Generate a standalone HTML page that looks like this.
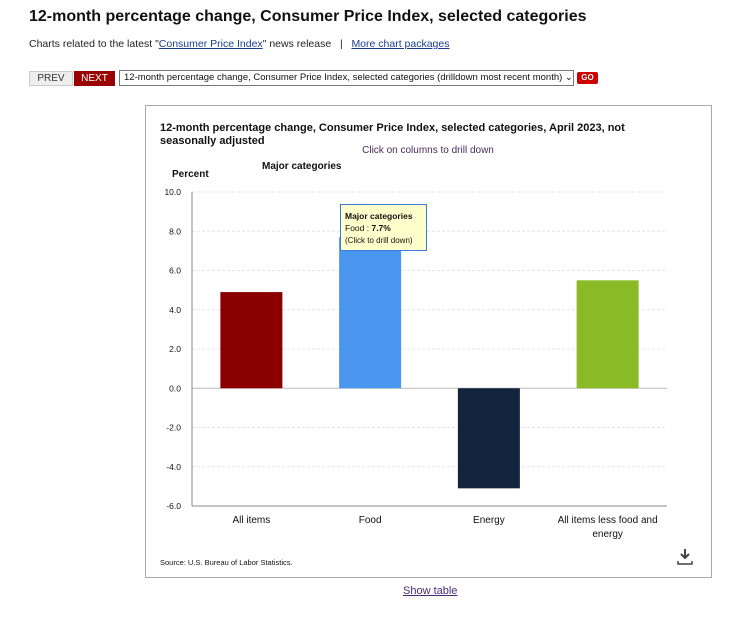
<!DOCTYPE html>
<html><head><meta charset="utf-8"><style>
body{margin:0;width:750px;height:627px;background:#fff;font-family:"Liberation Sans",sans-serif;position:relative;overflow:hidden}
.abs{position:absolute}
a{color:#1a0dab}
</style></head><body>
<div class="abs" style="left:29px;top:8px;font-size:16px;font-weight:bold;color:#111;white-space:nowrap">12-month percentage change, Consumer Price Index, selected categories</div>
<div class="abs" style="left:29px;top:38px;font-size:10.5px;color:#222;white-space:nowrap">Charts related to the latest "<a href="#" style="color:#1a3d8f">Consumer Price Index</a>" news release &nbsp;&nbsp;|&nbsp;&nbsp; <a href="#" style="color:#1a3d8f">More chart packages</a></div>
<div class="abs" style="left:29px;top:71px;width:42px;height:13px;background:#eee;border:1px solid #ccc;font-size:10px;text-align:center;line-height:13px;color:#333">PREV</div>
<div class="abs" style="left:74px;top:71px;width:41px;height:15px;background:#990000;font-size:10px;text-align:center;line-height:15px;color:#fff">NEXT</div>
<div class="abs" style="left:119px;top:70px;width:449px;height:14px;border:1px solid #777;font-size:9.5px;line-height:14px;padding-left:4px;color:#111;white-space:nowrap;overflow:hidden">12-month percentage change, Consumer Price Index, selected categories (drilldown most recent month) ⌄</div>
<div class="abs" style="left:577px;top:72px;width:21px;height:12px;background:#cc0000;border-radius:2px;font-size:8px;font-weight:bold;text-align:center;line-height:12px;color:#fff">GO</div>
<div class="abs" style="left:145px;top:105px;width:565px;height:471px;border:1px solid #aaa"></div>
<svg class="abs" style="left:0;top:0" width="750" height="627" id="chart">
<text x="160" y="131" font-size="11" font-weight="bold" fill="#111" font-family="Liberation Sans">12-month percentage change, Consumer Price Index, selected categories, April 2023, not</text>
<text x="160" y="144" font-size="11" font-weight="bold" fill="#111" font-family="Liberation Sans">seasonally adjusted</text>
<text x="428" y="153" font-size="10" fill="#4b2a5c" text-anchor="middle" font-family="Liberation Sans">Click on columns to drill down</text>
<text x="262" y="169" font-size="10" font-weight="bold" fill="#111" font-family="Liberation Sans">Major categories</text>
<text x="172" y="177" font-size="10" font-weight="bold" fill="#111" font-family="Liberation Sans">Percent</text>
<g id="grid"></g><g id="bars"></g><g id="labels"></g>
<text x="160" y="565" font-size="7.5" fill="#111" font-family="Liberation Sans">Source: U.S. Bureau of Labor Statistics.</text>
<g><path d="M685 549 v9 M681 554 l4 4 4-4" stroke="#444" stroke-width="2" fill="none"/><path d="M678 561 v3 h14 v-3" stroke="#444" stroke-width="1.5" fill="none"/></g>
<g><rect x="340.5" y="204.5" width="86" height="46" fill="#ffffcc" stroke="#3a7bd5"/>
<text x="345" y="219" font-size="8.5" font-weight="bold" fill="#111" font-family="Liberation Sans">Major categories</text>
<text x="345" y="231" font-size="8.5" fill="#111" font-family="Liberation Sans">Food : <tspan font-weight="bold">7.7%</tspan></text>
<text x="345" y="243" font-size="8" fill="#111" font-family="Liberation Sans">(Click to drill down)</text></g>
</svg>
<div class="abs" style="left:403px;top:585px;font-size:11px;color:#4b2a78;text-decoration:underline">Show table</div>
<script>
const categories=["All items","Food","Energy","All items less food and energy"];
const values=[4.9,7.7,-5.1,5.5];
const colors=["#8b0000","#4a96ee","#12233d","#8aba26"];
const ticks=[10,8,6,4,2,0,-2,-4,-6];
const NS="http://www.w3.org/2000/svg";
const x0=192,x1=667,yTop=192,yBot=506,vMax=10,vMin=-6;
const y=v=>yTop+(vMax-v)/(vMax-vMin)*(yBot-yTop);
const bw=(x1-x0)/categories.length;
const mk=(t,a,p)=>{const e=document.createElementNS(NS,t);for(const k in a)e.setAttribute(k,a[k]);p.appendChild(e);return e;};
const g=document.getElementById('grid'),b=document.getElementById('bars'),l=document.getElementById('labels');
ticks.forEach(t=>{
  if(t!==vMin){const ln=mk('line',{x1:x0,x2:x1,y1:y(t),y2:y(t),stroke:t===0?'#bbb':'#e4e4e4','stroke-dasharray':t===0?'':'3,2'},g);
  
  }
  const tx=mk('text',{x:181,y:y(t)+3,'font-size':8.5,'text-anchor':'end',fill:'#111','font-family':'Liberation Sans'},g);
  tx.textContent=t.toFixed(1);
  
  
});
mk('line',{x1:x0,x2:x0,y1:yTop,y2:yBot,stroke:'#888'},g);
mk('line',{x1:x0,x2:x1,y1:yBot,y2:yBot,stroke:'#888'},g);
categories.forEach((c,i)=>{
  const cx=x0+bw*(i+0.5),v=values[i];
  const r=mk('rect',{x:cx-31,width:62,y:Math.min(y(v),y(0)),height:Math.abs(y(v)-y(0)),fill:colors[i]},b);
  
  
  const words=c==="All items less food and energy"?["All items less food and","energy"]:[c];
  words.forEach((w,j)=>{const t=mk('text',{x:cx,y:523+j*14,'font-size':10,'text-anchor':'middle',fill:'#111','font-family':'Liberation Sans'},l);t.textContent=w;
  
  });
});
</script>
</body></html>
